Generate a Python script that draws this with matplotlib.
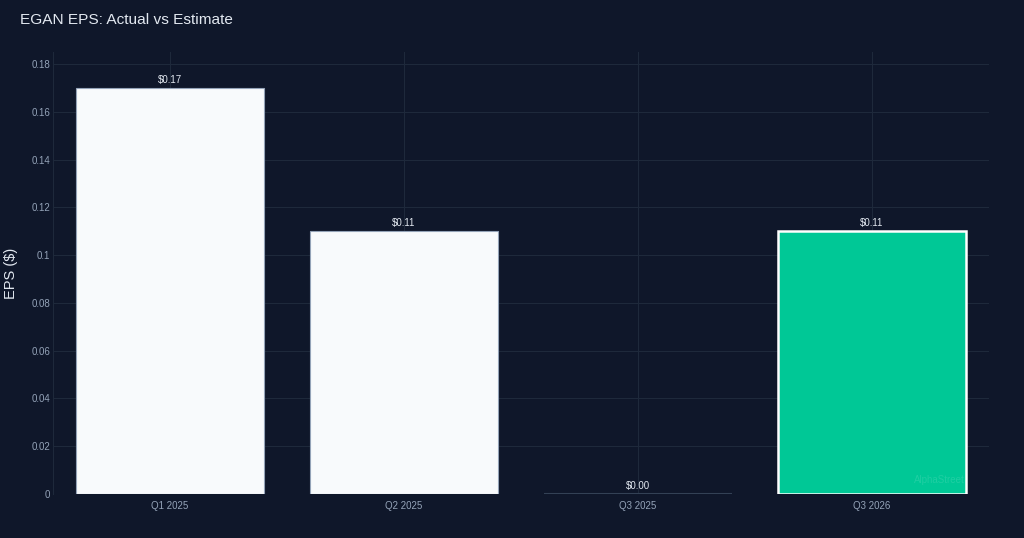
import matplotlib.pyplot as plt

plt.rcParams['font.family'] = ['Liberation Sans', 'DejaVu Sans']

quarters = ['Q1 2025', 'Q2 2025', 'Q3 2025', 'Q3 2026']
eps = [0.17, 0.11, 0.00, 0.11]
bar_colors = ['#f8fafc', '#f8fafc', '#f8fafc', '#00c896']
edge_colors = ['#94a3b8', '#94a3b8', '#334155', '#ffffff']
edge_widths = [0.8, 0.8, 1.5, 1.8]
yticks = [0, 0.02, 0.04, 0.06, 0.08, 0.1, 0.12, 0.14, 0.16, 0.18]
ytick_labels = ['0', '0.02', '0.04', '0.06', '0.08', '0.1', '0.12', '0.14', '0.16', '0.18']

bg = '#0f172a'
grid = '#1e293b'
tick_col = '#94a3b8'

fig = plt.figure(figsize=(10.24, 5.38), dpi=100, facecolor=bg)
ax = fig.add_axes([53/1024, 1 - 494/538, 936/1024, 442/538])
ax.set_facecolor(bg)

x = list(range(len(quarters)))
bars = ax.bar(x, eps, width=0.8, color=bar_colors, edgecolor=edge_colors,
              linewidth=edge_widths, zorder=3)

for xi, v in zip(x, eps):
    ax.annotate(f'${v:.2f}', (xi, v), xytext=(0, 2), textcoords='offset points',
                ha='center', va='bottom', color='#e2e8f0', fontsize=7, zorder=4)

ax.set_xlim(-0.5, 3.5)
ax.set_ylim(0, 0.185)
ax.set_xticks(x)
ax.set_xticklabels(quarters)
ax.set_yticks(yticks)
ax.set_yticklabels(ytick_labels)
ax.tick_params(colors=tick_col, labelsize=7, length=0)
ax.tick_params(axis='y', pad=2)
ax.tick_params(axis='x', pad=5)
ax.grid(True, color=grid, linewidth=0.8, zorder=0)
for side in ['top', 'right', 'bottom']:
    ax.spines[side].set_visible(False)
ax.spines['left'].set_color(grid)
ax.axhline(0, color=grid, linewidth=0.8, zorder=1)

fig.text(11/1024, 1 - 273/538, 'EPS ($)', color='#e2e8f0', fontsize=10.5,
         rotation=90, ha='center', va='center')

fig.text(20/1024, 1 - 20/538, 'EGAN EPS: Actual vs Estimate', color='#e2e8f0',
         fontsize=11.1, ha='left', va='center')

ax.text(0.974, 0.032, 'AlphaStreet', transform=ax.transAxes, ha='right', va='center',
        color='#ffffff', alpha=0.12, fontsize=7, zorder=5)

fig.savefig('out.png', dpi=100, facecolor=bg)
